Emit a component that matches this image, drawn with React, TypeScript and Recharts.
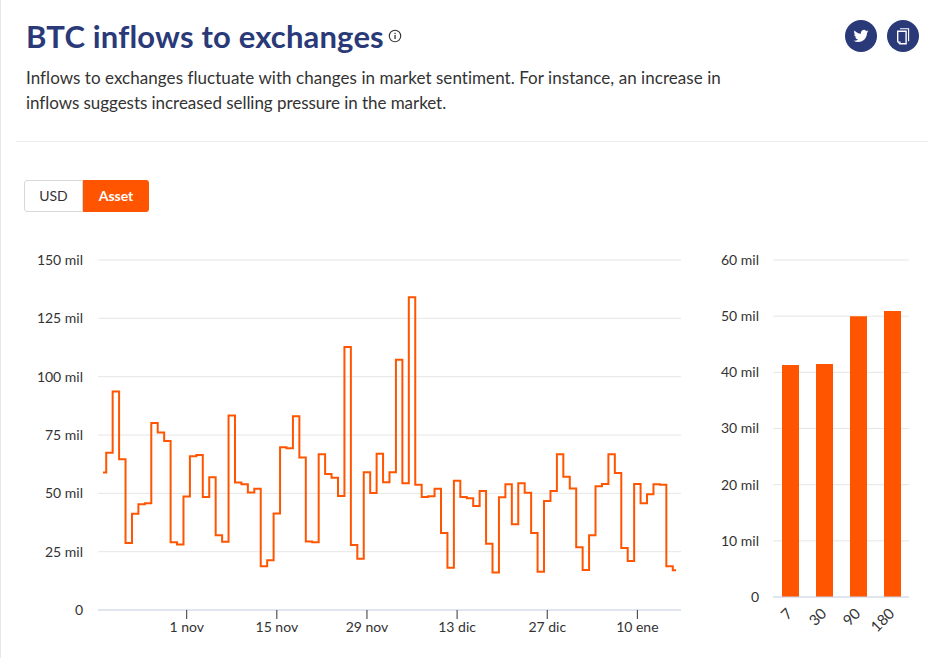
import { Bar, BarChart, CartesianGrid, Line, LineChart, XAxis, YAxis } from "recharts";

const ORANGE = "#ff5500";
const NAVY = "#2a3a78";
const GRIDLINE = "#e6e6e6";
const AXIS = "#ccd6eb";
const TEXT = "#333333";
const FONT = "Lato, sans-serif";

const days = [
  "19 oct", "20 oct", "21 oct", "22 oct", "23 oct", "24 oct", "25 oct", "26 oct", "27 oct", "28 oct",
  "29 oct", "30 oct", "31 oct", "1 nov", "2 nov", "3 nov", "4 nov", "5 nov", "6 nov", "7 nov",
  "8 nov", "9 nov", "10 nov", "11 nov", "12 nov", "13 nov", "14 nov", "15 nov", "16 nov", "17 nov",
  "18 nov", "19 nov", "20 nov", "21 nov", "22 nov", "23 nov", "24 nov", "25 nov", "26 nov", "27 nov",
  "28 nov", "29 nov", "30 nov", "1 dic", "2 dic", "3 dic", "4 dic", "5 dic", "6 dic", "7 dic",
  "8 dic", "9 dic", "10 dic", "11 dic", "12 dic", "13 dic", "14 dic", "15 dic", "16 dic", "17 dic",
  "18 dic", "19 dic", "20 dic", "21 dic", "22 dic", "23 dic", "24 dic", "25 dic", "26 dic", "27 dic",
  "28 dic", "29 dic", "30 dic", "31 dic", "1 ene", "2 ene", "3 ene", "4 ene", "5 ene", "6 ene",
  "7 ene", "8 ene", "9 ene", "10 ene", "11 ene", "12 ene", "13 ene", "14 ene", "15 ene", "16 ene",
];

const inflows = [
  58.9, 67.4, 93.6, 64.6, 28.7, 41.3, 45.3, 45.7, 80.1, 76.1,
  72.4, 29, 28.1, 48.6, 65.9, 66.4, 48.4, 56.9, 32, 29.3,
  83.4, 54.6, 53.9, 50.4, 52, 18.7, 21.3, 41.4, 69.7, 69.3,
  83, 65.4, 29.4, 29, 66.7, 58.3, 56.7, 48.9, 112.7, 27.9,
  22, 59, 50.1, 67, 54.7, 59, 107.3, 54.3, 134, 53.7,
  48.4, 48.7, 52, 33, 18.1, 55.4, 48.4, 47.9, 44.6, 51,
  28.4, 16.1, 48.3, 53.9, 36.7, 54.3, 50.3, 33, 16.4, 46.7,
  51, 66.7, 57.1, 52.1, 26.9, 17.1, 32, 53, 54, 66.7,
  58.7, 26.6, 21, 54, 45.7, 49.6, 53.9, 53.7, 18.7, 17,
];

const dayTicks = ["1 nov", "15 nov", "29 nov", "13 dic", "27 dic", "10 ene"];
const inflowTicks = [0, 25, 50, 75, 100, 125, 150];

const windows = ["7", "30", "90", "180"];
const windowAverages = [41.3, 41.5, 50, 50.9];
const averageTicks = [0, 10, 20, 30, 40, 50, 60];

const mil = (v: number) => (v === 0 ? "0" : `${v} mil`);
const tickStyle = { fontSize: 14, fill: TEXT, fontFamily: FONT };

export default function App() {
  const lineData = days.map((day, i) => ({ day, inflow: inflows[i] }));
  const barData = windows.map((w, i) => ({ window: w, average: windowAverages[i] }));

  return (
    <div style={{ position: "absolute", left: 0, top: 0, width: 933, height: 658, background: "#fff", overflow: "hidden", fontFamily: FONT, color: TEXT }}>
      <div style={{ position: "absolute", left: 0, top: 0, width: 1, height: 658, background: "#e8e8e8" }} />
      <div style={{ position: "absolute", left: 26, top: 16, fontSize: 31, letterSpacing: 0.17, lineHeight: "40px", fontWeight: 700, color: NAVY, whiteSpace: "nowrap" }}>
        BTC inflows to exchanges
      </div>
      <svg style={{ position: "absolute", left: 388, top: 29 }} width={14} height={14} viewBox="0 0 14 14">
        <circle cx={7} cy={7} r={5.7} fill="none" stroke="#333" strokeWidth={1.1} />
        <rect x={6.4} y={6} width={1.3} height={4} fill="#333" />
        <rect x={6.4} y={3.8} width={1.3} height={1.3} fill="#333" />
      </svg>
      <svg style={{ position: "absolute", left: 845, top: 20 }} width={32} height={32} viewBox="0 0 32 32">
        <circle cx={16} cy={16} r={16} fill={NAVY} />
        <g transform="translate(8.5 8.5) scale(0.625)">
          <path
            fill="#fff"
            d="M23.953 4.57a10 10 0 01-2.825.775 4.958 4.958 0 002.163-2.723c-.951.555-2.005.959-3.127 1.184a4.92 4.92 0 00-8.384 4.482C7.69 8.095 4.067 6.13 1.64 3.162a4.822 4.822 0 00-.666 2.475c0 1.71.87 3.213 2.188 4.096a4.904 4.904 0 01-2.228-.616v.06a4.923 4.923 0 003.946 4.827 4.996 4.996 0 01-2.212.085 4.936 4.936 0 004.604 3.417 9.867 9.867 0 01-6.102 2.105c-.39 0-.779-.023-1.17-.067a13.995 13.995 0 007.557 2.209c9.053 0 13.998-7.496 13.998-13.985 0-.21 0-.42-.015-.63A9.935 9.935 0 0024 4.59z"
          />
        </g>
      </svg>
      <svg style={{ position: "absolute", left: 887, top: 20 }} width={32} height={32} viewBox="0 0 32 32">
        <circle cx={16} cy={16} r={16} fill={NAVY} />
        <path d="M10.7 11.2h8.4v12.6h-6.2l-2.2-2.4z" fill="none" stroke="#fff" strokeWidth={1.4} />
        <path d="M11.5 21.5h2v2z" fill="#fff" />
        <path d="M13 8.7h8.6v12.6" fill="none" stroke="#fff" strokeWidth={1.1} />
      </svg>
      <div style={{ position: "absolute", left: 26, top: 65, fontSize: 17, letterSpacing: 0.05, lineHeight: "25px", whiteSpace: "nowrap" }}>
        Inflows to exchanges fluctuate with changes in market sentiment. For instance, an increase in
        <br />
        <span style={{ letterSpacing: -0.05 }}>inflows suggests increased selling pressure in the market.</span>
      </div>
      <div style={{ position: "absolute", left: 16, top: 141, width: 912, height: 1, background: "#ececec" }} />
      <div style={{ position: "absolute", left: 24, top: 180, width: 59, height: 32, boxSizing: "border-box", border: "1px solid #d8d8d8", borderRadius: "3px 0 0 3px", fontSize: 14, lineHeight: "30px", textAlign: "center" }}>
        USD
      </div>
      <div style={{ position: "absolute", left: 83, top: 180, width: 66, height: 32, borderRadius: "0 3px 3px 0", background: ORANGE, color: "#fff", fontSize: 14, fontWeight: 700, lineHeight: "32px", textAlign: "center" }}>
        Asset
      </div>

      <div style={{ position: "absolute", left: 0, top: 240 }}>
        <LineChart width={690} height={410} data={lineData} margin={{ top: 20, right: 9, bottom: 0, left: 0 }}>
          <CartesianGrid horizontal vertical={false} stroke={GRIDLINE} />
          <XAxis
            dataKey="day"
            ticks={dayTicks}
            interval={0}
            height={40}
            padding={{ left: 5, right: 5 }}
            axisLine={{ stroke: AXIS }}
            tickLine={{ stroke: "#333" }}
            tickSize={9}
            tickMargin={3}
            tick={tickStyle}
          />
          <YAxis
            width={98}
            domain={[0, 150]}
            ticks={inflowTicks}
            tickFormatter={mil}
            axisLine={false}
            tickLine={false}
            tickSize={0}
            tickMargin={15}
            tick={tickStyle}
          />
          <Line type="step" dataKey="inflow" stroke={ORANGE} strokeWidth={2} dot={false} isAnimationActive={false} />
        </LineChart>
      </div>

      <div style={{ position: "absolute", left: 690, top: 240 }}>
        <BarChart width={230} height={410} data={barData} margin={{ top: 20, right: 11, bottom: 0, left: 0 }} barCategoryGap="25%">
          <CartesianGrid horizontal vertical={false} stroke={GRIDLINE} />
          <XAxis
            dataKey="window"
            height={53}
            interval={0}
            axisLine={{ stroke: AXIS }}
            tickLine={false}
            tickSize={0}
            tickMargin={8}
            angle={-45}
            textAnchor="end"
            dx={-4}
            dy={2}
            tick={{ ...tickStyle, fontSize: 15 }}
          />
          <YAxis
            width={83}
            domain={[0, 60]}
            ticks={averageTicks}
            tickFormatter={mil}
            axisLine={false}
            tickLine={false}
            tickSize={0}
            tickMargin={14}
            tick={tickStyle}
          />
          <Bar dataKey="average" fill={ORANGE} barSize={17} isAnimationActive={false} />
        </BarChart>
      </div>
    </div>
  );
}
